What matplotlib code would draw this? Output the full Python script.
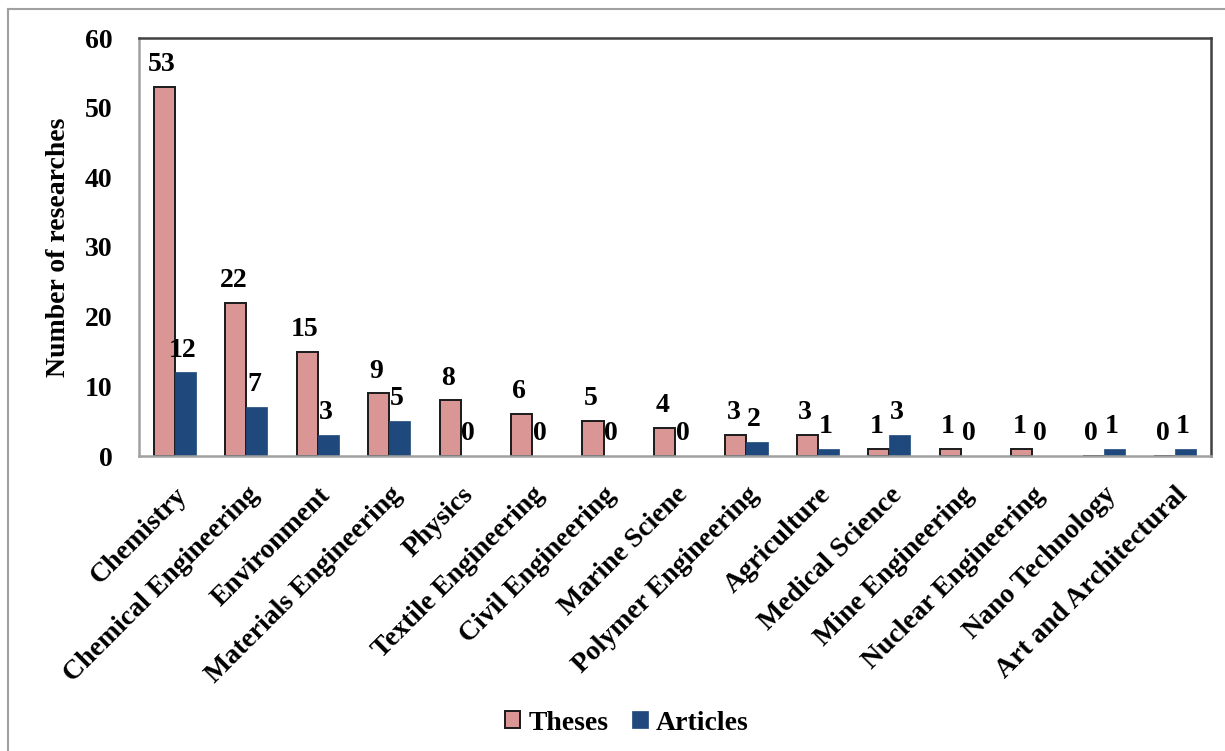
import matplotlib
matplotlib.use("Agg")
import matplotlib.pyplot as plt
import numpy as np
from matplotlib.lines import Line2D

categories = ["Chemistry", "Chemical Engineering", "Environment", "Materials Engineering",
              "Physics", "Textile Engineering", "Civil Engineering", "Marine Sciene",
              "Polymer Engineering", "Agriculture", "Medical Science", "Mine Engineering",
              "Nuclear Engineering", "Nano Technology", "Art and Architectural"]
theses = [53, 22, 15, 9, 8, 6, 5, 4, 3, 3, 1, 1, 1, 0, 0]
articles = [12, 7, 3, 5, 0, 0, 0, 0, 2, 1, 3, 0, 0, 1, 1]
yticks = [0, 10, 20, 30, 40, 50, 60]

plt.rcParams['font.family'] = ['Liberation Serif', 'DejaVu Serif']
plt.rcParams['font.weight'] = 'bold'

fig = plt.figure(figsize=(12.25, 7.51), dpi=100)
ax = fig.add_axes([139/1225, 1-456/751, (1211-139)/1225, (456-38)/751])

# figure border
fig.add_artist(Line2D([8/1225, 8/1225], [0, 1-9/751], transform=fig.transFigure, color='#a0a0a0', lw=1.5))
fig.add_artist(Line2D([8/1225, 1], [1-9/751, 1-9/751], transform=fig.transFigure, color='#a0a0a0', lw=1.5))

x = np.arange(len(categories))
w = 0.295
pink = '#D99694'
blue = '#1F497D'
b1 = ax.bar(x - w/2, theses, w, color=pink, edgecolor='#1a1a1a', linewidth=1.4, label='Theses')
b2 = ax.bar(x + w/2, articles, w, color=blue, edgecolor=blue, linewidth=0.5, label='Articles')

fs = 20
for xi, v in zip(x, theses):
    ax.text(xi - w/2 - 0.03, v + 1.4, str(v), ha='center', va='bottom', fontsize=fs, fontweight='bold')
for xi, v in zip(x, articles):
    ax.text(xi + w/2 - 0.04, v + 1.4, str(v), ha='center', va='bottom', fontsize=fs, fontweight='bold')

ax.set_xlim(-0.5, len(categories) - 0.5)
ax.set_ylim(0, 60)
ax.set_yticks(yticks)
ax.set_yticklabels([str(t) for t in yticks], fontsize=fs, fontweight='bold')
ax.set_xticks(x)
ax.set_xticklabels(categories, rotation=45, ha='right', rotation_mode='anchor',
                   fontsize=fs, fontweight='bold')
ax.tick_params(axis='both', length=0)
ax.tick_params(axis='y', pad=19)
ax.tick_params(axis='x', pad=19)
ax.set_ylabel('Number of researches', fontsize=fs, fontweight='bold', labelpad=10)

ax.spines['top'].set_color('#404040')
ax.spines['right'].set_color('#404040')
ax.spines['top'].set_linewidth(1.8)
ax.spines['right'].set_linewidth(1.8)
ax.spines['left'].set_color('#a0a0a0')
ax.spines['bottom'].set_color('#a0a0a0')
ax.spines['left'].set_linewidth(1.8)
ax.spines['bottom'].set_linewidth(1.8)

fig.legend(handles=[b1, b2], loc='center', bbox_to_anchor=(627/1225, 1-723/751), ncol=2,
           frameon=False, prop={'size': fs, 'weight': 'bold'}, handlelength=0.55, handleheight=0.55,
           handletextpad=0.3, columnspacing=0.85)

fig.savefig('out.png', dpi=100)
